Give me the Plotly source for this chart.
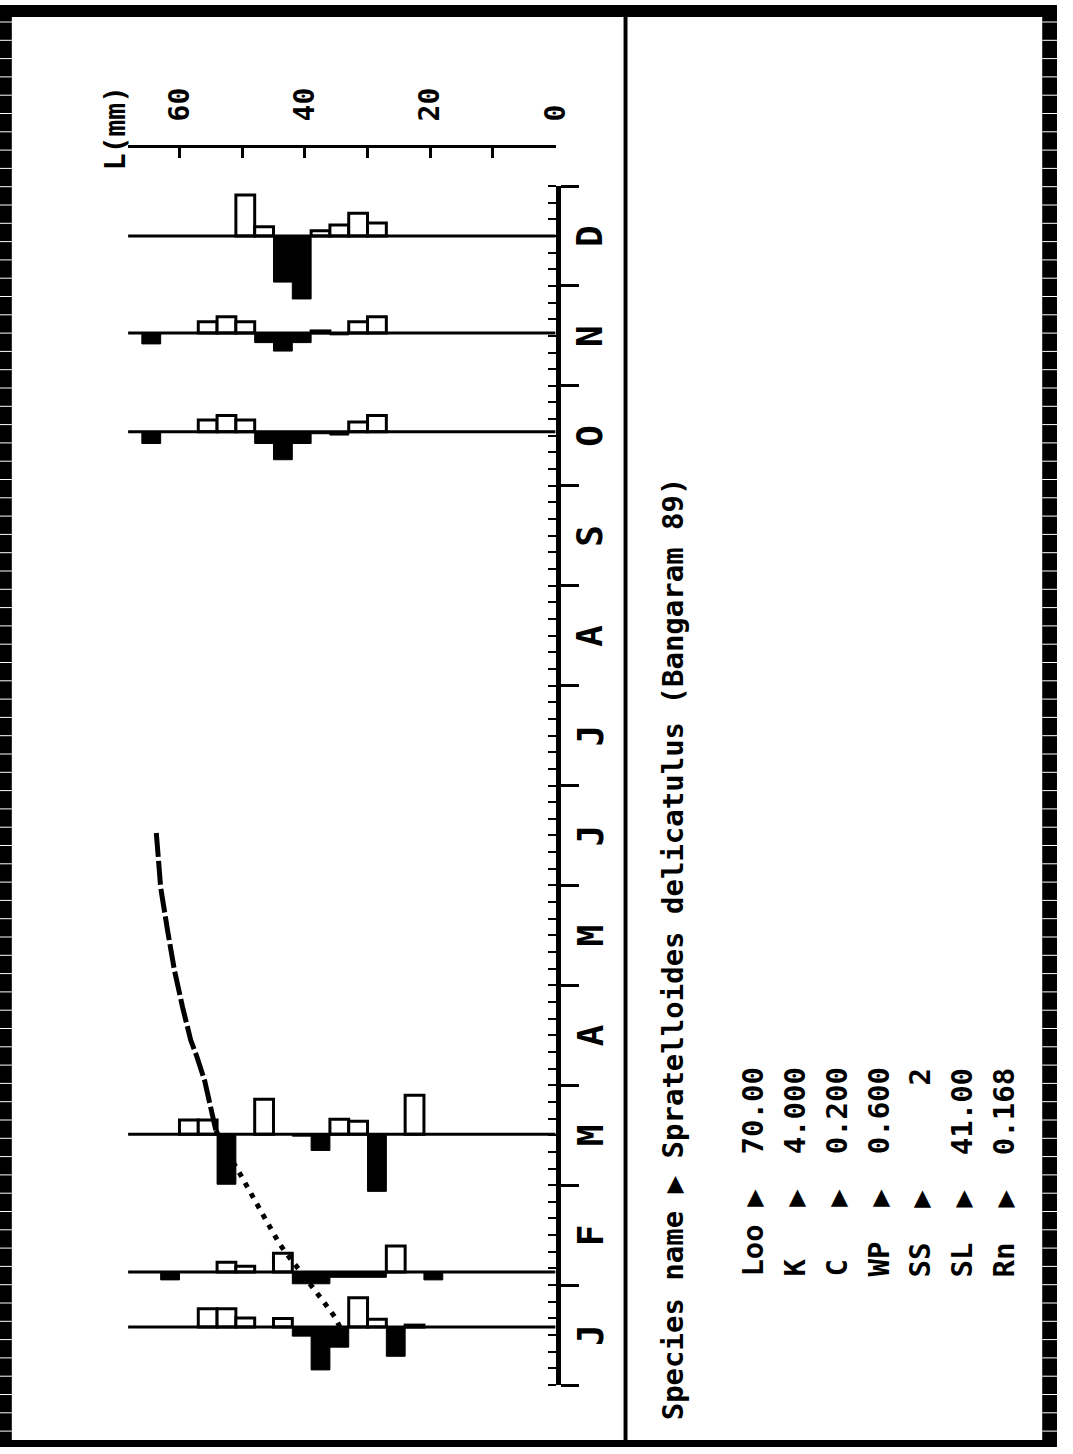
import plotly.graph_objects as go

W, H = 1073, 1454
MONO = "DejaVu Sans Mono"

# ---- data -------------------------------------------------------------
months = ["J", "F", "M", "A", "M", "J", "J", "A", "S", "O", "N", "D"]

# sampling dates, expressed in months from 1 January
sample_month = [0.58, 1.13, 2.51, 9.54, 10.53, 11.50]

BIN_WIDTH = 3.0  # mm, length classes

# restructured scores per length class (lower class limit in mm)
jan_lower = [54, 51, 48, 42, 39, 36, 33, 30, 27, 24, 21]
jan_score = [0.28, 0.28, 0.14, 0.13, -0.14, -0.66, -0.31, 0.45, 0.12, -0.45, 0.03]

feb_lower = [60, 51, 48, 42, 39, 36, 33, 30, 27, 24, 18]
feb_score = [-0.12, 0.15, 0.09, 0.29, -0.18, -0.18, -0.08, -0.08, -0.08, 0.40, -0.12]

mar_lower = [57, 54, 51, 45, 39, 36, 33, 30, 27, 21]
mar_score = [0.22, 0.22, -0.77, 0.54, -0.03, -0.25, 0.23, 0.20, -0.88, 0.60]

oct_lower = [63, 54, 51, 48, 45, 42, 39, 36, 33, 30, 27]
oct_score = [-0.18, 0.18, 0.25, 0.18, -0.18, -0.43, -0.18, -0.03, -0.05, 0.15, 0.25]

nov_lower = [63, 54, 51, 48, 45, 42, 39, 36, 33, 30, 27]
nov_score = [-0.17, 0.17, 0.25, 0.17, -0.15, -0.28, -0.15, 0.03, -0.03, 0.17, 0.25]

dec_lower = [48, 45, 42, 39, 36, 33, 30, 27]
dec_score = [0.63, 0.14, -0.71, -0.97, 0.08, 0.17, 0.35, 0.20]

samples = [
    (sample_month[0], jan_lower, jan_score),
    (sample_month[1], feb_lower, feb_score),
    (sample_month[2], mar_lower, mar_score),
    (sample_month[3], oct_lower, oct_score),
    (sample_month[4], nov_lower, nov_score),
    (sample_month[5], dec_lower, dec_score),
]

# growth curve (length in mm vs. time in months)
curve_a_len = [34.4, 35.2, 37.2, 39.2, 41.0, 43.0, 44.1, 46.2, 48.2, 50.4, 52.4, 54.2]
curve_a_month = [0.58, 0.68, 0.85, 1.02, 1.16, 1.32, 1.42, 1.65, 1.88, 2.12, 2.33, 2.55]
curve_b_len = [54.2, 55.2, 56.0, 57.3, 58.2, 59.5, 60.8, 61.9, 63.0, 63.7]
curve_b_month = [2.55, 2.80, 3.05, 3.30, 3.45, 3.78, 4.15, 4.55, 4.98, 5.53]

length_ticks = [0, 10, 20, 30, 40, 50, 60]
length_labels = ["0", "", "20", "", "40", "", "60"]

species_line = "Species name \u25b6 Spratelloides delicatulus (Bangaram 89)"
param_names = ["Loo", "K", "C", "WP", "SS", "SL", "Rn"]
param_values = ["70.00", "4.000", "0.200", "0.600", "2", "41.00", "0.168"]

# ---- scales -----------------------------------------------------------
XMAX = 68.2        # mm at the left edge of the plotting area
BAR_SCALE = 0.65   # months per unit of restructured score


def px(x):
    return x / W


def py(y):
    return 1 - y / H


fig = go.Figure()

# sample baselines
bx, by = [], []
for m in sample_month:
    bx += [0, XMAX, None]
    by += [m, m, None]
fig.add_trace(go.Scatter(x=bx, y=by, mode="lines",
                         line=dict(color="black", width=3),
                         hoverinfo="skip", showlegend=False))

# histogram bars: positive (open) and negative (filled)
pos_x, pos_y, pos_b = [], [], []
neg_x, neg_y, neg_b = [], [], []
for m, lows, scores in samples:
    for lo, s in zip(lows, scores):
        mid = lo + BIN_WIDTH / 2
        if s > 0:
            pos_x.append(mid); pos_y.append(s * BAR_SCALE); pos_b.append(m)
        elif s < 0:
            neg_x.append(mid); neg_y.append(s * BAR_SCALE); neg_b.append(m)

fig.add_trace(go.Bar(x=neg_x, y=neg_y, base=neg_b, width=BIN_WIDTH,
                     marker=dict(color="black", line=dict(color="black", width=1)),
                     showlegend=False, hoverinfo="skip"))
fig.add_trace(go.Bar(x=pos_x, y=pos_y, base=pos_b, width=BIN_WIDTH,
                     marker=dict(color="white", line=dict(color="black", width=3)),
                     showlegend=False, hoverinfo="skip"))

# growth curve
fig.add_trace(go.Scatter(x=curve_a_len, y=curve_a_month, mode="lines",
                         line=dict(color="black", width=5, dash="5px,7px"),
                         hoverinfo="skip", showlegend=False))
fig.add_trace(go.Scatter(x=curve_b_len, y=curve_b_month, mode="lines",
                         line=dict(color="black", width=5, dash="24px,4px"),
                         hoverinfo="skip", showlegend=False))

fig.update_layout(
    width=W, height=H,
    margin=dict(l=0, r=0, t=0, b=0),
    paper_bgcolor="white", plot_bgcolor="white",
    showlegend=False, barmode="overlay",
    xaxis=dict(
        range=[XMAX, 0], domain=[px(130), px(564)],
        anchor="free", position=py(146), side="top",
        showline=True, linecolor="black", linewidth=3,
        ticks="inside", ticklen=10, tickwidth=3, tickcolor="black",
        tickvals=length_ticks, ticktext=length_labels, tickangle=-90,
        tickfont=dict(family=MONO, size=28, color="black", weight="bold"),
        ticklabelstandoff=18,
        showgrid=False, zeroline=False, fixedrange=True,
    ),
    yaxis=dict(
        range=[0, 12], domain=[py(1385), py(186)],
        side="right", anchor="x",
        showline=True, linecolor="black", linewidth=5,
        ticks="outside", ticklen=18, tickwidth=3, tickcolor="black",
        tickvals=list(range(13)), showticklabels=False,
        minor=dict(ticks="inside", ticklen=8, tickwidth=2, tickcolor="black",
                   dtick=1 / 6, tick0=0, showgrid=False),
        showgrid=False, zeroline=False, fixedrange=True,
    ),
)

ann = []
bold = dict(family=MONO, color="black", weight="bold")

# month letters along the time axis
for i, mname in enumerate(months):
    ann.append(dict(x=px(599), xref="paper", y=i + 0.5, yref="y", text=mname,
                    textangle=-90, showarrow=False, xanchor="center", yanchor="middle",
                    font=dict(size=36, **bold)))

# length axis title
ann.append(dict(x=px(118), y=py(172), xref="paper", yref="paper", text="L(mm)",
                textangle=-90, showarrow=False, xanchor="center", yanchor="bottom",
                font=dict(size=28, **bold)))

# species line
ann.append(dict(x=px(683), y=py(1422), xref="paper", yref="paper",
                text=species_line.replace(" ", "\u00a0"),
                textangle=-90, showarrow=False, xanchor="center", yanchor="bottom",
                font=dict(size=29, **bold)))

# parameter table
for i, (nm, val) in enumerate(zip(param_names, param_values)):
    line = f"{nm:<4}\u25b6  {val:>5}".replace(" ", "\u00a0")
    ann.append(dict(x=px(764 + 42.6 * i), y=py(1279), xref="paper", yref="paper",
                    text=line, textangle=-90, showarrow=False,
                    xanchor="center", yanchor="bottom",
                    font=dict(size=29, **bold)))

fig.update_layout(annotations=ann)

# frame
shapes = []
rect = lambda x0, y0, x1, y1, c: dict(type="rect", xref="paper", yref="paper",
                                      x0=px(x0), x1=px(x1), y0=py(y1), y1=py(y0),
                                      fillcolor=c, line=dict(width=0), layer="above")
shapes.append(rect(0, 5, W, 17, "black"))        # top border
shapes.append(rect(0, 1440, W, 1447, "black"))   # bottom border
shapes.append(rect(0, 5, 12, 1447, "black"))     # left strip
shapes.append(rect(1058, 5, W, 1447, "black"))   # right strip
shapes.append(rect(633, 12, 637, 1442, "black")) # panel divider
y = 22.0
while y < 1438:
    for xa, xb in ((0, 12), (1058, W)):
        shapes.append(dict(type="line", xref="paper", yref="paper",
                           x0=px(xa), x1=px(xb), y0=py(y), y1=py(y),
                           line=dict(color="white", width=1), layer="above"))
    y += 18.3
fig.update_layout(shapes=shapes)

fig.write_html("out.html")
